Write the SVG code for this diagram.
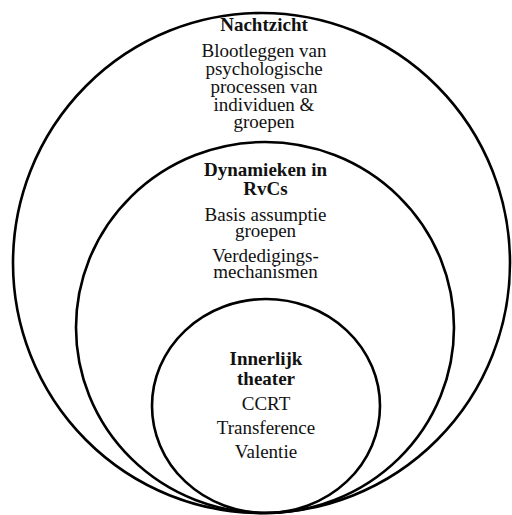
<svg xmlns="http://www.w3.org/2000/svg" width="512" height="515" viewBox="0 0 512 515">
<style>
.ring{fill:none;stroke:#000;stroke-width:2.6}
text{font-family:"Liberation Serif","Times New Roman",serif;font-size:19px;text-anchor:middle;fill:#111}
.t{font-weight:bold}
</style>
<rect width="512" height="515" fill="#fff"/>
<g id="outer">
<ellipse class="ring" cx="261.5" cy="263" rx="248.5" ry="250"/>
<text class="t" x="264" y="31">Nachtzicht</text>
<text x="264" y="57">Blootleggen van</text>
<text x="264" y="75">psychologische</text>
<text x="264" y="93">processen van</text>
<text x="264" y="111">individuen &amp;</text>
<text x="264" y="128">groepen</text>
</g>
<g id="middle">
<ellipse class="ring" cx="265" cy="327.5" rx="189" ry="185.5"/>
<text class="t" x="265.5" y="176">Dynamieken in</text>
<text class="t" x="265.5" y="195">RvCs</text>
<text x="265.5" y="221">Basis assumptie</text>
<text x="265.5" y="237">groepen</text>
<text x="265.5" y="262">Verdedigings-</text>
<text x="265.5" y="278">mechanismen</text>
</g>
<g id="inner">
<ellipse class="ring" cx="266" cy="406" rx="114" ry="107"/>
<text class="t" x="266" y="365">Innerlijk</text>
<text class="t" x="266" y="385">theater</text>
<text x="266" y="410">CCRT</text>
<text x="266" y="434">Transference</text>
<text x="266" y="458">Valentie</text>
</g>
<g id="connectors"/>
</svg>
